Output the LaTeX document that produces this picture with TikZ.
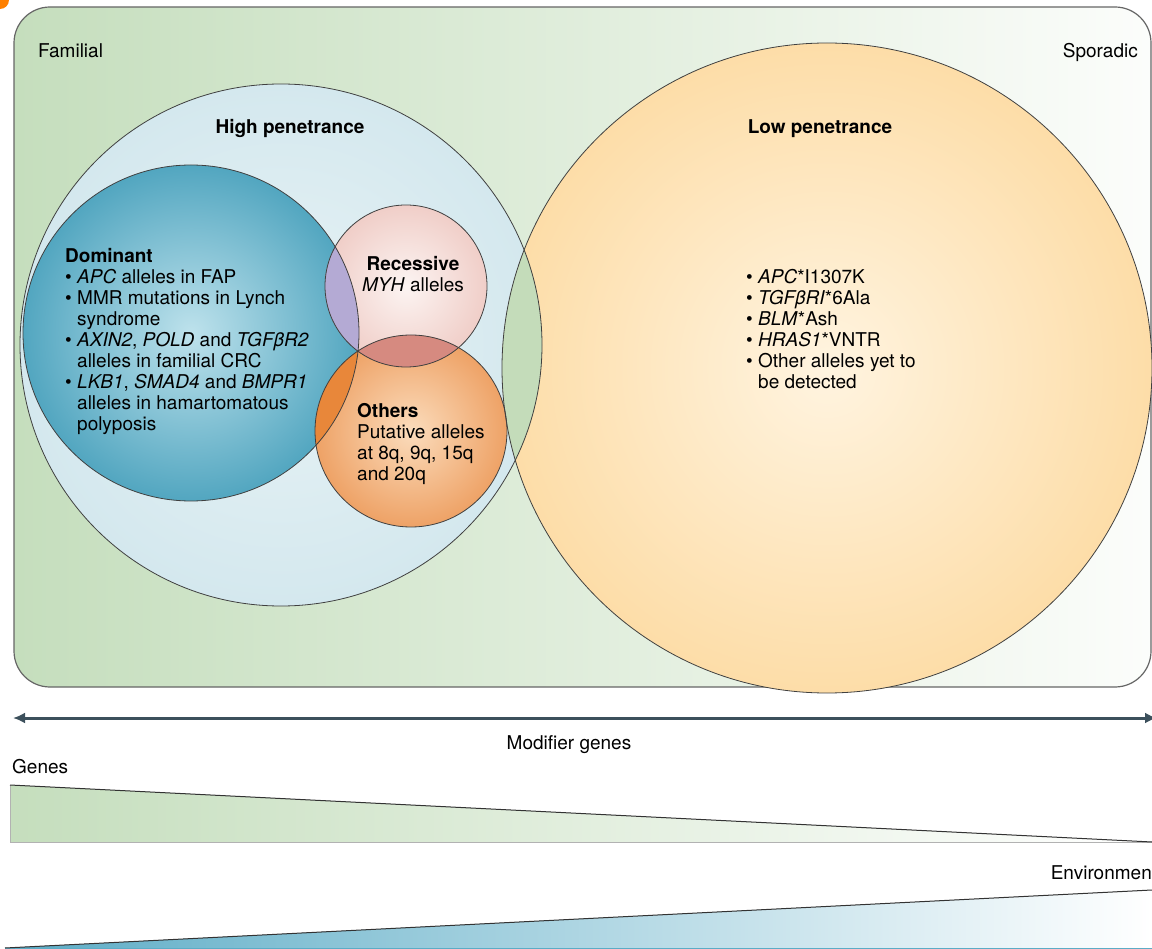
\documentclass[tikz,border=0pt]{standalone}
\usepackage{fontspec}
\setmainfont{TeX Gyre Heros}
\usetikzlibrary{arrows.meta}
\definecolor{famgreen}{RGB}{197,222,189}
\definecolor{ovgreen}{RGB}{196,220,186}
\definecolor{highblue}{RGB}{212,232,238}
\definecolor{highin}{RGB}{232,243,246}
\definecolor{lowor}{RGB}{253,221,168}
\definecolor{lowin}{RGB}{255,244,224}
\definecolor{domout}{RGB}{82,166,192}
\definecolor{domin}{RGB}{190,226,236}
\definecolor{recout}{RGB}{240,206,200}
\definecolor{recin}{RGB}{252,244,242}
\definecolor{othout}{RGB}{238,162,102}
\definecolor{othin}{RGB}{251,220,188}
\definecolor{lavender}{RGB}{180,170,212}
\definecolor{rose}{RGB}{214,138,128}
\definecolor{deeporange}{RGB}{232,135,58}
\definecolor{arrowcol}{RGB}{60,80,92}
\definecolor{envteal}{RGB}{92,172,198}
\newcommand{\itemdot}{\makebox[12pt][l]{\textbullet}}
\newcommand{\itemgap}{\hspace*{12pt}}
\begin{document}
\begin{tikzpicture}[x=1pt, y=-1pt,
  rim/.style={draw=black!75, line width=0.8pt},
  txt/.style={inner sep=0pt, font=\fontsize{19}{21}\selectfont},
  list/.style={txt, anchor=north west, align=left},
  ttl/.style={txt, font=\fontsize{19}{21}\selectfont\bfseries}]
  \useasboundingbox (0,0) rectangle (1152,949);
  % Ecke
  \fill[orange] (0,0) circle[radius=9];
  % Rahmen
  \draw[draw=black!60, line width=1.2pt, rounded corners=36pt,
    left color=famgreen, middle color=famgreen!88!white, right color=white!94!famgreen]
    (14,7) rectangle (1151,687);
  % Mittelpunkte
  \coordinate (hc) at (281,345);
  \coordinate (lc) at (827,368);
  \coordinate (dc) at (191,333);
  \coordinate (rc) at (406,286);
  \coordinate (oc) at (411,431);
  % grosse Kreise
  \shade[inner color=highin, outer color=highblue] (hc) circle[radius=261];
  \shade[inner color=lowin, outer color=lowor] (lc) circle[radius=325];
  \begin{scope}
    \clip (hc) circle[radius=261];
    \fill[ovgreen] (lc) circle[radius=325];
  \end{scope}
  % kleine Kreise
  \shade[inner color=domin, outer color=domout] (dc) circle[radius=168];
  \shade[inner color=recin, outer color=recout] (rc) circle[radius=81];
  \shade[inner color=othin, outer color=othout] (oc) circle[radius=96];
  % Schnittflaechen
  \begin{scope}
    \clip (dc) circle[radius=168];
    \fill[lavender] (rc) circle[radius=81];
    \fill[deeporange] (oc) circle[radius=96];
  \end{scope}
  \begin{scope}
    \clip (rc) circle[radius=81];
    \fill[rose] (oc) circle[radius=96];
  \end{scope}
  % Raender
  \draw[rim] (hc) circle[radius=261];
  \draw[rim] (lc) circle[radius=325];
  \draw[rim] (dc) circle[radius=168];
  \draw[rim] (rc) circle[radius=81];
  \draw[rim] (oc) circle[radius=96];
  % Beschriftungen
  \node[txt, anchor=base west] (familial) at (38,58) {Familial};
  \node[txt, anchor=base east] (sporadic) at (1138,58) {Sporadic};
  \node[ttl, anchor=base] (hightitle) at (290,134) {High penetrance};
  \node[ttl, anchor=base] (lowtitle) at (820,134) {Low penetrance};
  \node[list] (dominant) at (65,248) {\textbf{Dominant}\\
    \itemdot\textit{APC} alleles in FAP\\
    \itemdot MMR mutations in Lynch\\
    \itemgap syndrome\\
    \itemdot\textit{AXIN2}, \textit{POLD} and \textit{TGFβR2}\\
    \itemgap alleles in familial CRC\\
    \itemdot\textit{LKB1}, \textit{SMAD4} and \textit{BMPR1}\\
    \itemgap alleles in hamartomatous\\
    \itemgap polyposis};
  \node[txt, anchor=north, align=center] (recessive) at (413,256)
    {\textbf{Recessive}\\\textit{MYH} alleles};
  \node[list] (others) at (357,403)
    {\textbf{Others}\\Putative alleles\\at 8q, 9q, 15q\\and 20q};
  \node[list] (lowlist) at (746,269) {\itemdot\textit{APC}*I1307K\\
    \itemdot\textit{TGFβRI}*6Ala\\
    \itemdot\textit{BLM}*Ash\\
    \itemdot\textit{HRAS1}*VNTR\\
    \itemdot Other alleles yet to\\
    \itemgap be detected};
  % Pfeil
  \coordinate (arrL) at (13,718);
  \coordinate (arrR) at (1157,718);
  \draw[arrowcol, line width=3pt, {Latex[length=12pt,width=11pt]}-{Latex[length=12pt,width=11pt]}]
    (arrL) -- (arrR);
  \node[txt, anchor=base] (modifier) at (569,749) {Modifier genes};
  % Gene
  \node[txt, anchor=base west] (genes) at (12,773) {Genes};
  \coordinate (gTL) at (10,785);
  \coordinate (gBL) at (10,842);
  \coordinate (gBR) at (1152,842);
  \fill[left color=famgreen, right color=white] (gTL) -- (gBR) -- (gBL) -- cycle;
  \draw[black!30, line width=0.8pt] (gTL) -- (gBL) -- (gBR);
  \draw[black!80, line width=1pt] (gTL) -- (gBR);
  % Umwelt
  \node[txt, anchor=base east] (environment) at (1152,879) {Environmen};
  \coordinate (eBL) at (5,948);
  \coordinate (eTR) at (1152,890);
  \coordinate (eBR) at (1152,948);
  \fill[left color=envteal, right color=white] (eBL) -- (eTR) -- (eBR) -- cycle;
  \draw[envteal, line width=1pt] (eBL) -- (eBR);
  \draw[black!80, line width=1pt] (eBL) -- (eTR);
\end{tikzpicture}
\end{document}
